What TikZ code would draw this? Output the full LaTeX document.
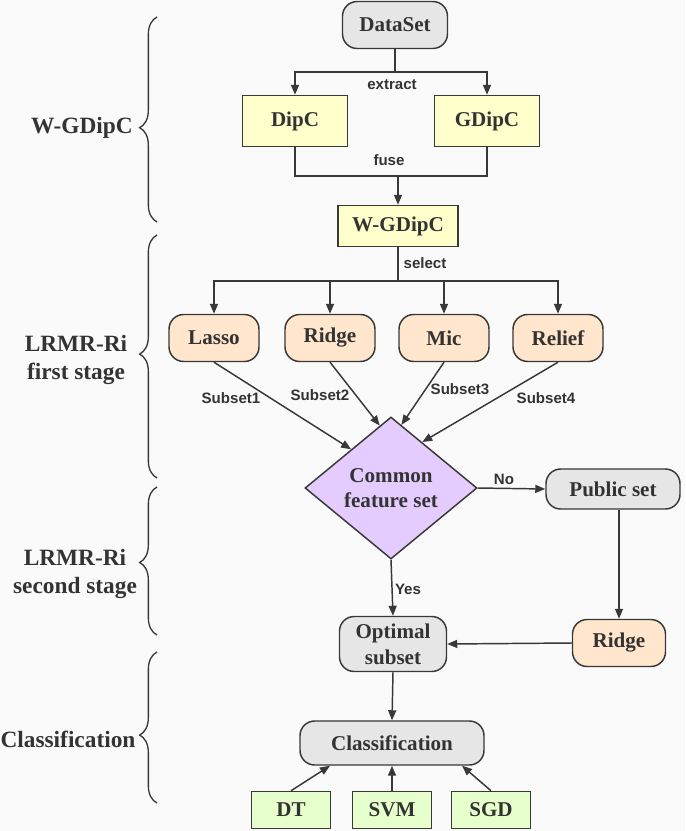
\documentclass[tikz,border=0pt]{standalone}
\usepackage{fontspec}
\setmainfont{Liberation Serif}
\newfontfamily\lblfont{Liberation Sans}
\usetikzlibrary{shapes.geometric,arrows.meta,calc,decorations.pathreplacing}
\definecolor{bgc}{HTML}{FAFAFA}
\definecolor{linec}{HTML}{383838}
\definecolor{textc}{HTML}{333333}
\definecolor{grayf}{HTML}{E6E6E6}
\definecolor{yellf}{HTML}{FFFFCC}
\definecolor{peachf}{HTML}{FFE6CC}
\definecolor{purpf}{HTML}{E5CCFF}
\definecolor{greenf}{HTML}{E6FFCC}
\tikzset{
  sz/.style 2 args={minimum width=#1*0.75pt, minimum height=#2*0.75pt},
  base/.style={draw=linec, line width=1.1pt, text=textc, inner sep=0pt, align=center,
    font=\bfseries\fontsize{15.8}{19.5}\selectfont},
  rbox/.style={base, rectangle, rounded corners=11pt},
  sbox/.style={base, rectangle},
  grayn/.style={rbox, fill=grayf},
  yelln/.style={sbox, fill=yellf},
  peachn/.style={rbox, fill=peachf},
  greenn/.style={sbox, fill=greenf},
  decn/.style={base, diamond, fill=purpf, font=\bfseries\fontsize{15.8}{18.75}\selectfont},
  conn/.style={draw=linec, line width=1.1pt},
  arr/.style={conn, -{Triangle[length=7.5pt,width=6pt]}},
  lbl/.style={text=textc, inner sep=1pt, font=\lblfont\bfseries\fontsize{11.3}{13}\selectfont},
  sidel/.style={text=textc, inner sep=0pt, align=center, font=\bfseries\fontsize{17.5}{21}\selectfont},
  brc/.style={draw=linec, line width=1pt, decorate, decoration={brace, amplitude=13pt, raise=0pt}},
}
\begin{document}
\begin{tikzpicture}[x=0.75pt,y=-0.75pt]
\useasboundingbox[fill=bgc] (0,0) rectangle (685,831);

% nodes
\node[grayn, sz={105}{47}] (ds) at (395,25) {DataSet};
\node[yelln, sz={105}{51}] (dipc) at (295,121) {DipC};
\node[yelln, sz={105}{51}] (gdipc) at (487,121) {GDipC};
\node[yelln, sz={120}{41}] (wg) at (398,226) {W-GDipC};
\node[peachn, sz={90}{47}] (lasso) at (214,338) {Lasso};
\node[peachn, sz={90}{47}] (ridge) at (330,338) {Ridge};
\node[peachn, sz={90}{47}] (mic) at (444,338) {Mic};
\node[peachn, sz={90}{47}] (relief) at (558,338) {Relief};
\node[decn, sz={172}{142}] (dia) at (391,488) {Common\\feature set};
\node[grayn, sz={134}{40}] (pub) at (613,489) {Public set};
\node[peachn, sz={93}{47}] (ridge2) at (619,643) {Ridge};
\node[grayn, sz={107}{55}] (opt) at (393,644) {Optimal\\subset};
\node[grayn, sz={184}{44}] (cls) at (392,743) {Classification};
\node[greenn, sz={79}{37}] (dt) at (291,810) {DT};
\node[greenn, sz={79}{37}] (svm) at (392,810) {SVM};
\node[greenn, sz={79}{37}] (sgd) at (491,810) {SGD};

% side labels
\node[sidel, anchor=east] (l1) at (133,128) {W-GDipC};
\node[sidel] (l2) at (76,360) {LRMR-Ri\\first stage};
\node[sidel] (l3) at (75,574) {LRMR-Ri\\second stage};
\node[sidel] (l4) at (68,739) {Classification};

% braces
\coordinate (b1t) at (157,17);  \coordinate (b1b) at (157,222);
\coordinate (b2t) at (157,235); \coordinate (b2b) at (157,478);
\coordinate (b3t) at (157,487); \coordinate (b3b) at (157,635);
\coordinate (b4t) at (157,652); \coordinate (b4b) at (157,803);
\draw[brc, decoration={aspect=0.46}] (b1b) -- (b1t);
\draw[brc, decoration={aspect=0.51}] (b2b) -- (b2t);
\draw[brc, decoration={aspect=0.49}] (b3b) -- (b3t);
\draw[brc, decoration={aspect=0.45}] (b4b) -- (b4t);

% extract
\coordinate (ej) at (395,72);
\draw[conn] (ds.south) -- (ej);
\draw[arr] (ej) -| (dipc.north);
\draw[arr] (ej) -| (gdipc.north);
\node[lbl] (lext) at (392,85) {extract};

% fuse
\coordinate (fj) at (398,176);
\draw[conn] (dipc.south) |- (fj) -| (gdipc.south);
\draw[arr] (fj) -- (wg.north);
\node[lbl] (lfuse) at (389,160) {fuse};

% select
\coordinate (sj) at (398,281);
\draw[conn] (wg.south) -- (sj);
\draw[arr] (sj) -| (lasso.north);
\draw[arr] (sj) -| (ridge.north);
\draw[arr] (sj) -| (mic.north);
\draw[arr] (sj) -| (relief.north);
\node[lbl] (lsel) at (425,263) {select};

% subsets
\draw[arr] (lasso.south) -- ($(dia.north)!0.46!(dia.west)$);
\draw[arr] (ridge.south) -- ($(dia.north)!0.13!(dia.west)$);
\draw[arr] (mic.south) -- ($(dia.north)!0.12!(dia.east)$);
\draw[arr] (relief.south) -- ($(dia.north)!0.36!(dia.east)$);
\node[lbl] (ls1) at (231,398) {Subset1};
\node[lbl] (ls2) at (320,395) {Subset2};
\node[lbl] (ls3) at (460,389) {Subset3};
\node[lbl] (ls4) at (546,398) {Subset4};

% No / Yes
\draw[arr] (dia.east) -- (pub.west);
\node[lbl] (lno) at (504,479) {No};
\draw[arr] (dia.south) -- (opt.north);
\node[lbl] (lyes) at (408,589) {Yes};

% Ridge path
\draw[arr] (ridge2.north |- pub.south) -- (ridge2.north);
\draw[arr] (ridge2.west) -- (opt.east);

% classification
\draw[arr] (opt.south) -- (cls.north);
\draw[arr] (dt.north) -- ($(cls.south)+(-62,0)$);
\draw[arr] (svm.north) -- (cls.south);
\draw[arr] (sgd.north) -- ($(cls.south)+(70,0)$);
\end{tikzpicture}
\end{document}
